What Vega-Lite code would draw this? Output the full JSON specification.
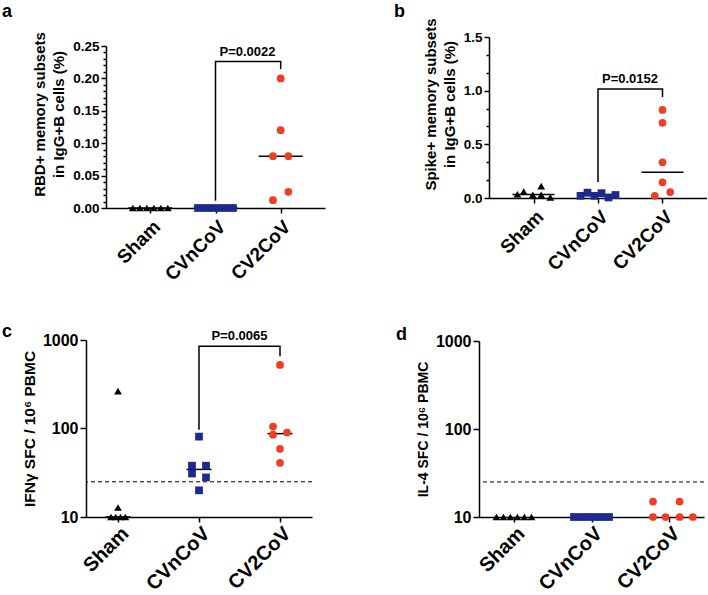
{
"$schema":"https://vega.github.io/schema/vega-lite/v6.json",
"padding":{"left":2,"top":2,"right":0,"bottom":0},
"config":{"font":"Liberation Sans","view":{"stroke":null},
 "axis":{"labelFontWeight":"bold","titleFontWeight":"bold","labelColor":"#000","titleColor":"#000","domainColor":"#000","tickColor":"#000","domainWidth":1.5,"tickWidth":1.5,"grid":false},
 "title":{"fontSize":18,"fontWeight":"bold","anchor":"start","frame":"group","color":"#000","font":"Liberation Sans"}},
"columns":2,
"spacing":{"row":132,"column":154},
"bounds":"flush",
"align":"each",
"concat":[
{
 "width":239,"height":171,
 "title":{"text":"a","dx":-84,"offset":10.5},
 "layer":[
  {"data":{"values":[{"group":"CVnCoV","v":0.011,"k":1},{"group":"CVnCoV","v":0.226,"k":2},{"group":"CV2CoV","v":0.226,"k":3},{"group":"CV2CoV","v":0.2145,"k":4}]},
   "mark":{"type":"line","color":"#000","strokeWidth":1.5},
   "encoding":{
    "x":{"field":"group","type":"nominal","scale":{"type":"point","domain":["Sham","CVnCoV","CV2CoV"],"range":[20,239],"padding":0.68},"axis":{"title":null,"labelAngle":-45,"labelFontSize":19,"labelFontWeight":"bold","tickSize":5,"labelPadding":4}},
    "y":{"field":"v","type":"quantitative","scale":{"domain":[0,0.25],"range":[171,9],"nice":false},
     "axis":{"orient":"left","offset":-20,"values":[0,0.01,0.02,0.03,0.04,0.05,0.06,0.07,0.08,0.09,0.1,0.11,0.12,0.13,0.14,0.15,0.16,0.17,0.18,0.19,0.2,0.21,0.22,0.23,0.24,0.25],
      "labelExpr":"abs(datum.value*20 - round(datum.value*20)) < 0.000001 ? format(datum.value, '.2f') : ''",
      "labelOverlap":false,
      "tickSize":{"condition":{"test":"abs(datum.value*20 - round(datum.value*20)) < 0.000001","value":5},"value":3},
      "labelFontSize":13.5,"labelPadding":2,"title":["RBD+ memory subsets","in IgG+B cells  (%)"],"titleFontSize":15,"titleLineHeight":19,"titlePadding":6,"titleY":77}},
    "order":{"field":"k","type":"quantitative"}}},
  {"data":{"name":"pa"},
   "mark":{"type":"tick","color":"#000","size":44,"thickness":1.5},
   "encoding":{
    "x":{"field":"group","type":"nominal","scale":{"type":"point","domain":["Sham","CVnCoV","CV2CoV"],"range":[20,239],"padding":0.68},"axis":{"title":null,"labelAngle":-45,"labelFontSize":19,"labelFontWeight":"bold","tickSize":5,"labelPadding":4}},
    "y":{"aggregate":"median","field":"v","type":"quantitative","scale":{"domain":[0,0.25],"range":[171,9],"nice":false},
     "axis":{"orient":"left","offset":-20,"values":[0,0.01,0.02,0.03,0.04,0.05,0.06,0.07,0.08,0.09,0.1,0.11,0.12,0.13,0.14,0.15,0.16,0.17,0.18,0.19,0.2,0.21,0.22,0.23,0.24,0.25],
      "labelExpr":"abs(datum.value*20 - round(datum.value*20)) < 0.000001 ? format(datum.value, '.2f') : ''",
      "labelOverlap":false,
      "tickSize":{"condition":{"test":"abs(datum.value*20 - round(datum.value*20)) < 0.000001","value":5},"value":3},
      "labelFontSize":13.5,"labelPadding":2,"title":["RBD+ memory subsets","in IgG+B cells  (%)"],"titleFontSize":15,"titleLineHeight":19,"titlePadding":6,"titleY":77}}}},
  {"data":{"name":"pa"},
   "mark":{"type":"point","filled":true,"opacity":1,"size":60},
   "encoding":{
    "x":{"field":"group","type":"nominal","scale":{"type":"point","domain":["Sham","CVnCoV","CV2CoV"],"range":[20,239],"padding":0.68},"axis":{"title":null,"labelAngle":-45,"labelFontSize":19,"labelFontWeight":"bold","tickSize":5,"labelPadding":4}},
    "xOffset":{"field":"j","type":"quantitative","scale":{"domain":[-1,1],"range":[-7,7]}},
    "y":{"field":"v","type":"quantitative","scale":{"domain":[0,0.25],"range":[171,9],"nice":false},
     "axis":{"orient":"left","offset":-20,"values":[0,0.01,0.02,0.03,0.04,0.05,0.06,0.07,0.08,0.09,0.1,0.11,0.12,0.13,0.14,0.15,0.16,0.17,0.18,0.19,0.2,0.21,0.22,0.23,0.24,0.25],
      "labelExpr":"abs(datum.value*20 - round(datum.value*20)) < 0.000001 ? format(datum.value, '.2f') : ''",
      "labelOverlap":false,
      "tickSize":{"condition":{"test":"abs(datum.value*20 - round(datum.value*20)) < 0.000001","value":5},"value":3},
      "labelFontSize":13.5,"labelPadding":2,"title":["RBD+ memory subsets","in IgG+B cells  (%)"],"titleFontSize":15,"titleLineHeight":19,"titlePadding":6,"titleY":77}},
    "shape":{"field":"group","type":"nominal","scale":{"domain":["Sham","CVnCoV","CV2CoV"],"range":["triangle-up","square","circle"]},"legend":null},
    "color":{"field":"group","type":"nominal","scale":{"domain":["Sham","CVnCoV","CV2CoV"],"range":["#000000","#1b2a8c","#f03c24"]},"legend":null}}},
  {"data":{"values":[{"group":"CVnCoV","v":0.226}]},
   "mark":{"type":"text","text":"P=0.0022","fontSize":13,"fontWeight":"bold","dx":32,"dy":-6,"align":"center","baseline":"alphabetic","color":"#000"},
   "encoding":{
    "x":{"field":"group","type":"nominal","scale":{"type":"point","domain":["Sham","CVnCoV","CV2CoV"],"range":[20,239],"padding":0.68},"axis":{"title":null,"labelAngle":-45,"labelFontSize":19,"labelFontWeight":"bold","tickSize":5,"labelPadding":4}},
    "y":{"field":"v","type":"quantitative","scale":{"domain":[0,0.25],"range":[171,9],"nice":false},
     "axis":{"orient":"left","offset":-20,"values":[0,0.01,0.02,0.03,0.04,0.05,0.06,0.07,0.08,0.09,0.1,0.11,0.12,0.13,0.14,0.15,0.16,0.17,0.18,0.19,0.2,0.21,0.22,0.23,0.24,0.25],
      "labelExpr":"abs(datum.value*20 - round(datum.value*20)) < 0.000001 ? format(datum.value, '.2f') : ''",
      "labelOverlap":false,
      "tickSize":{"condition":{"test":"abs(datum.value*20 - round(datum.value*20)) < 0.000001","value":5},"value":3},
      "labelFontSize":13.5,"labelPadding":2,"title":["RBD+ memory subsets","in IgG+B cells  (%)"],"titleFontSize":15,"titleLineHeight":19,"titlePadding":6,"titleY":77}}}}
 ]
},
{
 "width":228,"height":161,
 "title":{"text":"b","dx":-85,"offset":0,"dy":3},
 "layer":[
  {"data":{"values":[{"group":"CVnCoV","v":0.15,"k":1},{"group":"CVnCoV","v":1.015,"k":2},{"group":"CV2CoV","v":1.015,"k":3},{"group":"CV2CoV","v":0.94,"k":4}]},
   "mark":{"type":"line","color":"#000","strokeWidth":1.5},
   "encoding":{
    "x":{"field":"group","type":"nominal","scale":{"type":"point","domain":["Sham","CVnCoV","CV2CoV"],"range":[10,228],"padding":0.69},"axis":{"title":null,"labelAngle":-45,"labelFontSize":19,"labelFontWeight":"bold","tickSize":5,"labelPadding":4}},
    "y":{"field":"v","type":"quantitative","scale":{"domain":[0,1.5],"nice":false},
     "axis":{"orient":"left","offset":-10,"values":[0,0.166667,0.333333,0.5,0.666667,0.833333,1,1.166667,1.333333,1.5],
      "labelExpr":"abs(datum.value*2 - round(datum.value*2)) < 0.000001 ? format(datum.value, '.1f') : ''",
      "labelOverlap":false,
      "tickSize":{"condition":{"test":"abs(datum.value*2 - round(datum.value*2)) < 0.000001","value":5},"value":3},
      "labelFontSize":13.5,"labelPadding":2,"title":["Spike+ memory subsets","in IgG+B cells  (%)"],"titleFontSize":15,"titleLineHeight":19,"titlePadding":6,"titleY":67}},
    "order":{"field":"k","type":"quantitative"}}},
  {"data":{"name":"pb"},
   "mark":{"type":"tick","color":"#000","size":42,"thickness":1.5},
   "encoding":{
    "x":{"field":"group","type":"nominal","scale":{"type":"point","domain":["Sham","CVnCoV","CV2CoV"],"range":[10,228],"padding":0.69},"axis":{"title":null,"labelAngle":-45,"labelFontSize":19,"labelFontWeight":"bold","tickSize":5,"labelPadding":4}},
    "y":{"aggregate":"median","field":"v","type":"quantitative","scale":{"domain":[0,1.5],"nice":false},
     "axis":{"orient":"left","offset":-10,"values":[0,0.166667,0.333333,0.5,0.666667,0.833333,1,1.166667,1.333333,1.5],
      "labelExpr":"abs(datum.value*2 - round(datum.value*2)) < 0.000001 ? format(datum.value, '.1f') : ''",
      "labelOverlap":false,
      "tickSize":{"condition":{"test":"abs(datum.value*2 - round(datum.value*2)) < 0.000001","value":5},"value":3},
      "labelFontSize":13.5,"labelPadding":2,"title":["Spike+ memory subsets","in IgG+B cells  (%)"],"titleFontSize":15,"titleLineHeight":19,"titlePadding":6,"titleY":67}}}},
  {"data":{"name":"pb"},
   "mark":{"type":"point","filled":true,"opacity":1,"size":60},
   "encoding":{
    "x":{"field":"group","type":"nominal","scale":{"type":"point","domain":["Sham","CVnCoV","CV2CoV"],"range":[10,228],"padding":0.69},"axis":{"title":null,"labelAngle":-45,"labelFontSize":19,"labelFontWeight":"bold","tickSize":5,"labelPadding":4}},
    "xOffset":{"field":"j","type":"quantitative","scale":{"domain":[-1,1],"range":[-7,7]}},
    "y":{"field":"v","type":"quantitative","scale":{"domain":[0,1.5],"nice":false},
     "axis":{"orient":"left","offset":-10,"values":[0,0.166667,0.333333,0.5,0.666667,0.833333,1,1.166667,1.333333,1.5],
      "labelExpr":"abs(datum.value*2 - round(datum.value*2)) < 0.000001 ? format(datum.value, '.1f') : ''",
      "labelOverlap":false,
      "tickSize":{"condition":{"test":"abs(datum.value*2 - round(datum.value*2)) < 0.000001","value":5},"value":3},
      "labelFontSize":13.5,"labelPadding":2,"title":["Spike+ memory subsets","in IgG+B cells  (%)"],"titleFontSize":15,"titleLineHeight":19,"titlePadding":6,"titleY":67}},
    "shape":{"field":"group","type":"nominal","scale":{"domain":["Sham","CVnCoV","CV2CoV"],"range":["triangle-up","square","circle"]},"legend":null},
    "color":{"field":"group","type":"nominal","scale":{"domain":["Sham","CVnCoV","CV2CoV"],"range":["#000000","#1b2a8c","#f03c24"]},"legend":null}}},
  {"data":{"values":[{"group":"CVnCoV","v":1.015}]},
   "mark":{"type":"text","text":"P=0.0152","fontSize":13,"fontWeight":"bold","dx":32,"dy":-6,"align":"center","baseline":"alphabetic","color":"#000"},
   "encoding":{
    "x":{"field":"group","type":"nominal","scale":{"type":"point","domain":["Sham","CVnCoV","CV2CoV"],"range":[10,228],"padding":0.69},"axis":{"title":null,"labelAngle":-45,"labelFontSize":19,"labelFontWeight":"bold","tickSize":5,"labelPadding":4}},
    "y":{"field":"v","type":"quantitative","scale":{"domain":[0,1.5],"nice":false},
     "axis":{"orient":"left","offset":-10,"values":[0,0.166667,0.333333,0.5,0.666667,0.833333,1,1.166667,1.333333,1.5],
      "labelExpr":"abs(datum.value*2 - round(datum.value*2)) < 0.000001 ? format(datum.value, '.1f') : ''",
      "labelOverlap":false,
      "tickSize":{"condition":{"test":"abs(datum.value*2 - round(datum.value*2)) < 0.000001","value":5},"value":3},
      "labelFontSize":13.5,"labelPadding":2,"title":["Spike+ memory subsets","in IgG+B cells  (%)"],"titleFontSize":15,"titleLineHeight":19,"titlePadding":6,"titleY":67}}}}
 ]
},
{
 "width":226,"height":177,
 "title":{"text":"c","dx":-84,"offset":0,"dy":11},
 "layer":[
  {"data":{"values":[{"group":"CVnCoV","v":97,"k":1},{"group":"CVnCoV","v":851,"k":2},{"group":"CV2CoV","v":851,"k":3},{"group":"CV2CoV","v":656,"k":4}]},
   "mark":{"type":"line","color":"#000","strokeWidth":1.5},
   "encoding":{
    "x":{"field":"group","type":"nominal","scale":{"type":"point","domain":["Sham","CVnCoV","CV2CoV"],"padding":0.395},"axis":{"title":null,"labelAngle":-45,"labelFontSize":20,"labelFontWeight":"bold","tickSize":5,"labelPadding":1}},
    "y":{"field":"v","type":"quantitative","scale":{"type":"log","domain":[10,1000],"nice":false},
     "axis":{"orient":"left","values":[10,100,1000],"format":"d","labelFontSize":16,"tickSize":6,"labelPadding":2,"title":"IFNγ SFC / 10⁶ PBMC","titleFontSize":15.5,"titlePadding":5}},
    "order":{"field":"k","type":"quantitative"}}},
  {"data":{"values":[{"group":"Sham","v":25}]},
   "mark":{"type":"rule","color":"#000","strokeWidth":1,"strokeDash":[4,3]},
   "encoding":{"y":{"field":"v","type":"quantitative","scale":{"type":"log","domain":[10,1000],"nice":false},
     "axis":{"orient":"left","values":[10,100,1000],"format":"d","labelFontSize":16,"tickSize":6,"labelPadding":2,"title":"IFNγ SFC / 10⁶ PBMC","titleFontSize":15.5,"titlePadding":5}}}},
  {"data":{"name":"pc"},
   "mark":{"type":"tick","color":"#000","size":25,"thickness":1.5},
   "encoding":{
    "x":{"field":"group","type":"nominal","scale":{"type":"point","domain":["Sham","CVnCoV","CV2CoV"],"padding":0.395},"axis":{"title":null,"labelAngle":-45,"labelFontSize":20,"labelFontWeight":"bold","tickSize":5,"labelPadding":1}},
    "y":{"aggregate":"median","field":"v","type":"quantitative","scale":{"type":"log","domain":[10,1000],"nice":false},
     "axis":{"orient":"left","values":[10,100,1000],"format":"d","labelFontSize":16,"tickSize":6,"labelPadding":2,"title":"IFNγ SFC / 10⁶ PBMC","titleFontSize":15.5,"titlePadding":5}}}},
  {"data":{"name":"pc"},
   "mark":{"type":"point","filled":true,"opacity":1,"size":60},
   "encoding":{
    "x":{"field":"group","type":"nominal","scale":{"type":"point","domain":["Sham","CVnCoV","CV2CoV"],"padding":0.395},"axis":{"title":null,"labelAngle":-45,"labelFontSize":20,"labelFontWeight":"bold","tickSize":5,"labelPadding":1}},
    "xOffset":{"field":"j","type":"quantitative","scale":{"domain":[-1,1],"range":[-12,12]}},
    "y":{"field":"v","type":"quantitative","scale":{"type":"log","domain":[10,1000],"nice":false},
     "axis":{"orient":"left","values":[10,100,1000],"format":"d","labelFontSize":16,"tickSize":6,"labelPadding":2,"title":"IFNγ SFC / 10⁶ PBMC","titleFontSize":15.5,"titlePadding":5}},
    "shape":{"field":"group","type":"nominal","scale":{"domain":["Sham","CVnCoV","CV2CoV"],"range":["triangle-up","square","circle"]},"legend":null},
    "color":{"field":"group","type":"nominal","scale":{"domain":["Sham","CVnCoV","CV2CoV"],"range":["#000000","#1b2a8c","#f03c24"]},"legend":null}}},
  {"data":{"values":[{"group":"CVnCoV","v":851}]},
   "mark":{"type":"text","text":"P=0.0065","fontSize":13,"fontWeight":"bold","dx":40.5,"dy":-6,"align":"center","baseline":"alphabetic","color":"#000"},
   "encoding":{
    "x":{"field":"group","type":"nominal","scale":{"type":"point","domain":["Sham","CVnCoV","CV2CoV"],"padding":0.395},"axis":{"title":null,"labelAngle":-45,"labelFontSize":20,"labelFontWeight":"bold","tickSize":5,"labelPadding":1}},
    "y":{"field":"v","type":"quantitative","scale":{"type":"log","domain":[10,1000],"nice":false},
     "axis":{"orient":"left","values":[10,100,1000],"format":"d","labelFontSize":16,"tickSize":6,"labelPadding":2,"title":"IFNγ SFC / 10⁶ PBMC","titleFontSize":15.5,"titlePadding":5}}}}
 ]
},
{
 "width":225,"height":177,
 "title":{"text":"d","dx":-83,"offset":0,"dy":11},
 "layer":[
  {"data":{"values":[{"group":"Sham","v":25}]},
   "mark":{"type":"rule","color":"#000","strokeWidth":1,"strokeDash":[4,3]},
   "encoding":{"y":{"field":"v","type":"quantitative","scale":{"type":"log","domain":[10,1000],"range":[177,1],"nice":false},
     "axis":{"orient":"left","values":[10,100,1000],"format":"d","labelFontSize":16,"tickSize":6,"labelPadding":2,"title":"IL-4 SFC / 10⁶ PBMC","titleFontSize":14,"titlePadding":5}}}},
  {"data":{"name":"pd"},
   "mark":{"type":"point","filled":true,"opacity":1,"size":60},
   "encoding":{
    "x":{"field":"group","type":"nominal","scale":{"type":"point","domain":["Sham","CVnCoV","CV2CoV"],"padding":0.45},"axis":{"title":null,"labelAngle":-45,"labelFontSize":20,"labelFontWeight":"bold","tickSize":5,"labelPadding":1}},
    "xOffset":{"field":"j","type":"quantitative","scale":{"domain":[-1,1],"range":[-4.4,4.4]}},
    "y":{"field":"v","type":"quantitative","scale":{"type":"log","domain":[10,1000],"range":[177,1],"nice":false},
     "axis":{"orient":"left","values":[10,100,1000],"format":"d","labelFontSize":16,"tickSize":6,"labelPadding":2,"title":"IL-4 SFC / 10⁶ PBMC","titleFontSize":14,"titlePadding":5}},
    "shape":{"field":"group","type":"nominal","scale":{"domain":["Sham","CVnCoV","CV2CoV"],"range":["triangle-up","square","circle"]},"legend":null},
    "color":{"field":"group","type":"nominal","scale":{"domain":["Sham","CVnCoV","CV2CoV"],"range":["#000000","#1b2a8c","#f03c24"]},"legend":null}}}
 ]
}
],
"datasets":{
 "pa":[
  {"group":"Sham","v":0,"j":-2.5},{"group":"Sham","v":0,"j":-1.5},{"group":"Sham","v":0,"j":-0.5},{"group":"Sham","v":0,"j":0.5},{"group":"Sham","v":0,"j":1.5},{"group":"Sham","v":0,"j":2.5},
  {"group":"CVnCoV","v":0,"j":-2.5},{"group":"CVnCoV","v":0,"j":-1.5},{"group":"CVnCoV","v":0,"j":-0.5},{"group":"CVnCoV","v":0,"j":0.5},{"group":"CVnCoV","v":0,"j":1.5},{"group":"CVnCoV","v":0,"j":2.5},
  {"group":"CV2CoV","v":0.2,"j":0},{"group":"CV2CoV","v":0.12,"j":0},{"group":"CV2CoV","v":0.08,"j":-1.1},{"group":"CV2CoV","v":0.08,"j":1.1},{"group":"CV2CoV","v":0.025,"j":1.1},{"group":"CV2CoV","v":0.012,"j":-1.1}
 ],
 "pb":[
  {"group":"Sham","v":0.035,"j":-2.3},{"group":"Sham","v":0.06,"j":-1.4},{"group":"Sham","v":0.03,"j":-0.1},{"group":"Sham","v":0.11,"j":1.1},{"group":"Sham","v":0.03,"j":1.1},{"group":"Sham","v":0.005,"j":2.4},
  {"group":"CVnCoV","v":0.02,"j":-2.5},{"group":"CVnCoV","v":0.05,"j":-1.5},{"group":"CVnCoV","v":0.02,"j":-0.5},{"group":"CVnCoV","v":0.045,"j":0.5},{"group":"CVnCoV","v":0.005,"j":1.5},{"group":"CVnCoV","v":0.028,"j":2.5},
  {"group":"CV2CoV","v":0.82,"j":0},{"group":"CV2CoV","v":0.7,"j":0},{"group":"CV2CoV","v":0.333,"j":0},{"group":"CV2CoV","v":0.146,"j":0},{"group":"CV2CoV","v":0.02,"j":-1.1},{"group":"CV2CoV","v":0.055,"j":1.1}
 ],
 "pc":[
  {"group":"Sham","v":10,"j":-1},{"group":"Sham","v":10,"j":-0.33},{"group":"Sham","v":10,"j":0.36},{"group":"Sham","v":10,"j":1.05},{"group":"Sham","v":12.8,"j":0},{"group":"Sham","v":265,"j":0},
  {"group":"CVnCoV","v":81,"j":0},{"group":"CVnCoV","v":38,"j":-1},{"group":"CVnCoV","v":31,"j":-1},{"group":"CVnCoV","v":38,"j":1},{"group":"CVnCoV","v":28,"j":1},{"group":"CVnCoV","v":20,"j":0},
  {"group":"CV2CoV","v":105,"j":-1},{"group":"CV2CoV","v":85,"j":-1},{"group":"CV2CoV","v":90,"j":1},{"group":"CV2CoV","v":59,"j":0},{"group":"CV2CoV","v":41,"j":0},{"group":"CV2CoV","v":523,"j":0}
 ],
 "pd":[
  {"group":"Sham","v":10,"j":-2.5},{"group":"Sham","v":10,"j":-1.5},{"group":"Sham","v":10,"j":-0.5},{"group":"Sham","v":10,"j":0.5},{"group":"Sham","v":10,"j":1.5},{"group":"Sham","v":10,"j":2.5},
  {"group":"CVnCoV","v":10,"j":-2.5},{"group":"CVnCoV","v":10,"j":-1.5},{"group":"CVnCoV","v":10,"j":-0.5},{"group":"CVnCoV","v":10,"j":0.5},{"group":"CVnCoV","v":10,"j":1.5},{"group":"CVnCoV","v":10,"j":2.5},
  {"group":"CV2CoV","v":15,"j":-2.3},{"group":"CV2CoV","v":15,"j":1.5},{"group":"CV2CoV","v":10,"j":-2.3},{"group":"CV2CoV","v":10,"j":-0.5},{"group":"CV2CoV","v":10,"j":1.5},{"group":"CV2CoV","v":10,"j":3.4}
 ]
}
}
